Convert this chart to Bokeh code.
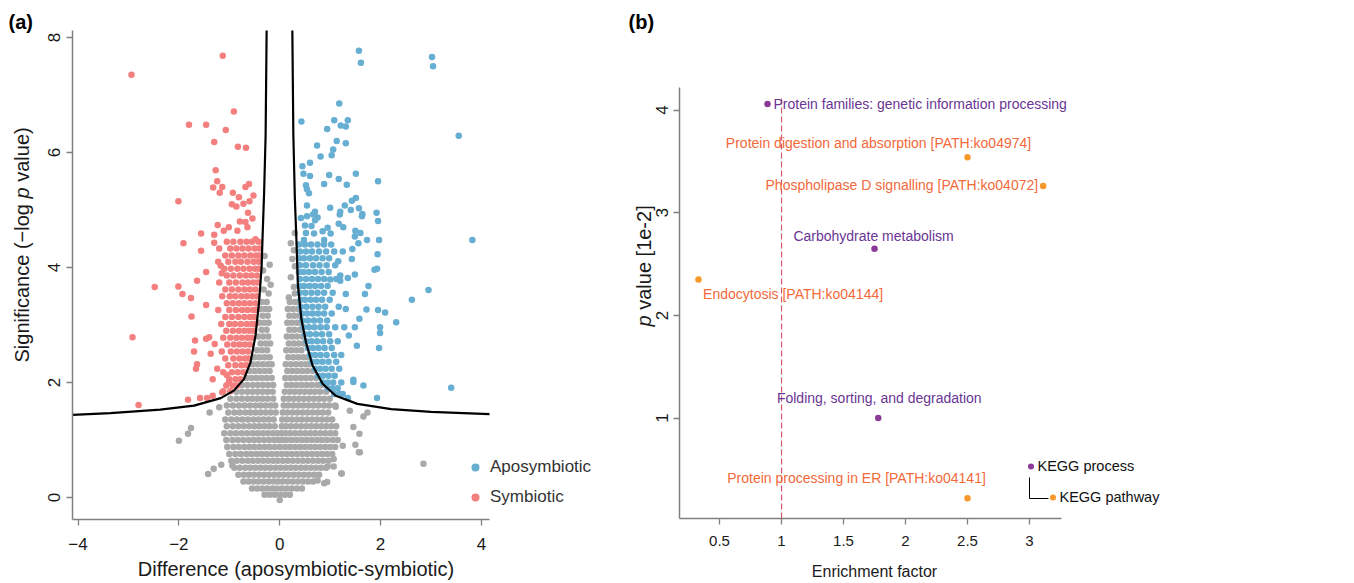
import math
from bokeh.plotting import figure
from bokeh.layouts import row
from bokeh.models import Range1d, FixedTicker, Label, Legend, LegendItem, Arrow
from bokeh.embed import file_html
from bokeh.resources import INLINE

# ---------------- Panel (a): volcano plot data ----------------
symbiotic_sparse = [
    (-1.13, 7.68), (-2.94, 7.35), (-0.91, 6.71), (-1.80, 6.48), (-1.46, 6.48), (-1.07, 6.39),
    (-1.30, 6.18), (-0.83, 6.10), (-0.67, 6.08), (-1.27, 5.69), (-1.24, 5.50), (-1.32, 5.39),
    (-1.14, 5.40), (-1.19, 5.30), (-0.93, 5.30), (-0.61, 5.45), (-0.68, 5.40), (-0.81, 5.22),
    (-0.52, 5.25), (-0.60, 5.15), (-0.72, 5.11), (-2.01, 5.15), (-0.95, 5.10), (-0.86, 5.06),
    (-0.63, 4.95), (-0.54, 4.85), (-0.68, 4.79), (-0.79, 4.80), (-1.23, 4.74), (-1.01, 4.70),
    (-1.11, 4.64), (-0.84, 4.64), (-1.56, 4.59), (-1.30, 4.57), (-0.64, 4.70), (-0.48, 4.49),
    (-1.91, 4.42), (-1.56, 4.29), (-1.30, 4.43), (-1.46, 3.92), (-2.48, 3.66), (-2.01, 3.67),
    (-1.93, 3.54), (-1.76, 3.47), (-1.64, 3.77), (-1.17, 4.03), (-1.15, 3.90), (-1.46, 3.35),
    (-1.75, 3.15), (-2.92, 2.79), (-1.68, 2.73), (-1.70, 2.54), (-1.64, 2.32), (-1.66, 2.24),
    (-1.40, 2.79), (-1.46, 2.76), (-1.37, 2.50), (-1.29, 2.67), (-1.33, 2.06), (-1.24, 2.24),
    (-1.82, 1.70), (-2.80, 1.61), (-1.58, 1.73), (-1.44, 1.73), (-1.33, 1.77), (-1.14, 1.83),
    (-1.05, 2.13), (-1.01, 2.00),
]
symbiotic_dense = {
    4.45: [-1.05, -0.92, -0.78, -0.66, -0.55, -0.42],
    4.33: [-1.20, -0.98, -0.86, -0.74, -0.62, -0.50, -0.40],
    4.21: [-1.08, -0.95, -0.82, -0.70, -0.58, -0.47, -0.40],
    4.10: [-1.22, -1.02, -0.88, -0.77, -0.64, -0.52, -0.42],
    3.98: [-1.10, -0.97, -0.84, -0.72, -0.60, -0.49, -0.41],
    3.86: [-1.05, -0.92, -0.79, -0.67, -0.56, -0.45],
    3.74: [-1.20, -1.00, -0.87, -0.74, -0.63, -0.52, -0.43],
    3.62: [-1.08, -0.95, -0.82, -0.70, -0.59, -0.48],
    3.50: [-1.14, -0.99, -0.88, -0.76, -0.65, -0.54, -0.45],
    3.38: [-1.05, -0.93, -0.81, -0.70, -0.59, -0.48],
    3.26: [-1.22, -1.00, -0.87, -0.75, -0.64, -0.53, -0.46],
    3.14: [-1.08, -0.95, -0.82, -0.70, -0.59, -0.50],
    3.02: [-1.16, -1.00, -0.89, -0.77, -0.65, -0.55, -0.48],
    2.90: [-1.06, -0.93, -0.81, -0.70, -0.60, -0.51],
    2.78: [-1.12, -0.98, -0.86, -0.75, -0.64, -0.55],
    2.66: [-1.04, -0.91, -0.80, -0.69, -0.59],
    2.54: [-1.15, -0.97, -0.85, -0.74, -0.63],
    2.42: [-1.08, -0.92, -0.80, -0.69, -0.62],
    2.30: [-1.02, -0.88, -0.76, -0.66],
    2.18: [-1.12, -0.95, -0.83, -0.72],
    2.06: [-1.00, -0.88, -0.78],
    1.95: [-1.06, -0.93, -0.84],
    1.85: [-1.12, -0.98],
}
aposymbiotic_sparse = [
    (1.57, 7.77), (1.61, 7.56), (3.02, 7.66), (3.04, 7.50), (3.55, 6.29), (1.18, 6.85),
    (0.43, 6.54), (1.08, 6.56), (1.35, 6.56), (1.21, 6.47), (1.31, 6.45), (0.94, 6.41),
    (1.13, 6.20), (1.31, 6.16), (0.74, 6.12), (1.06, 6.05), (1.03, 5.95), (0.81, 5.93),
    (0.60, 5.82), (0.45, 5.76), (0.47, 5.63), (0.60, 5.59), (0.98, 5.61), (1.51, 5.63),
    (1.17, 5.54), (0.88, 5.45), (1.33, 5.44), (1.95, 5.50), (0.52, 5.43), (0.54, 5.36),
    (0.58, 5.29), (1.51, 5.21), (1.43, 5.16), (0.54, 5.08), (1.00, 5.04), (1.29, 5.08),
    (1.57, 5.03), (1.41, 5.00), (0.70, 4.97), (1.20, 4.97), (1.64, 4.93), (1.63, 4.89),
    (1.92, 4.95), (1.95, 4.81), (1.19, 4.92), (0.42, 4.86), (0.54, 4.89), (0.66, 4.92),
    (0.75, 4.87), (0.70, 4.82), (0.50, 4.73), (0.63, 4.72), (0.95, 4.69), (1.17, 4.76),
    (1.26, 4.70), (1.50, 4.64), (1.60, 4.60), (0.85, 4.63), (1.01, 4.59), (0.52, 4.60),
    (0.68, 4.59), (1.49, 4.54), (0.48, 4.48), (0.88, 4.48), (1.73, 4.48), (1.97, 4.48),
    (3.82, 4.48), (1.56, 4.42), (1.44, 4.32), (1.94, 4.23), (1.43, 4.15), (1.16, 4.11),
    (1.88, 3.96), (1.93, 3.98), (1.49, 3.88), (1.35, 3.82), (1.20, 3.86), (1.20, 3.77),
    (1.00, 3.79), (1.76, 3.68), (1.69, 3.54), (1.31, 3.54), (2.95, 3.61), (2.62, 3.44),
    (1.72, 3.27), (1.95, 3.26), (2.09, 3.22), (1.31, 3.28), (1.17, 3.32), (1.58, 3.11),
    (2.31, 3.05), (1.99, 2.96), (1.99, 2.86), (1.49, 2.96), (1.28, 2.96), (1.37, 2.82),
    (1.53, 2.64), (1.97, 2.60), (1.46, 2.05), (1.46, 2.01), (1.66, 1.95), (1.93, 1.73),
    (3.40, 1.91), (1.35, 1.73), (1.18, 1.80),
]
aposymbiotic_dense = {
    4.40: [0.38, 0.50, 0.62, 0.75, 0.88, 1.02],
    4.28: [0.40, 0.52, 0.64, 0.78, 0.92, 1.08, 1.25],
    4.16: [0.38, 0.48, 0.60, 0.72, 0.85, 0.98],
    4.04: [0.40, 0.52, 0.66, 0.79, 0.93, 1.10],
    3.92: [0.38, 0.47, 0.58, 0.70, 0.83, 0.97],
    3.80: [0.40, 0.52, 0.64, 0.76, 0.88, 1.12],
    3.68: [0.39, 0.48, 0.59, 0.70, 0.82, 0.95],
    3.56: [0.40, 0.51, 0.63, 0.75, 0.88, 1.05],
    3.44: [0.41, 0.50, 0.61, 0.72, 0.84, 0.99],
    3.32: [0.42, 0.53, 0.65, 0.77, 0.90],
    3.20: [0.44, 0.54, 0.65, 0.76, 0.88, 1.03],
    3.08: [0.45, 0.56, 0.68, 0.80, 0.94],
    2.96: [0.47, 0.58, 0.69, 0.81, 0.93, 1.10],
    2.84: [0.50, 0.60, 0.72, 0.84, 0.98],
    2.72: [0.53, 0.63, 0.74, 0.86, 1.00, 1.15],
    2.60: [0.56, 0.66, 0.77, 0.89, 1.03],
    2.48: [0.60, 0.70, 0.81, 0.93, 1.08, 1.22],
    2.36: [0.64, 0.74, 0.85, 0.97, 1.12],
    2.24: [0.70, 0.80, 0.91, 1.03, 1.18],
    2.12: [0.76, 0.86, 0.97, 1.09],
    2.00: [0.85, 0.95, 1.06, 1.22],
    1.90: [0.95, 1.05, 1.15],
    1.80: [1.08, 1.25],
}
nonsig_sparse = [
    (0.30, 4.60), (0.22, 4.42), (0.28, 4.30), (0.25, 4.15), (0.30, 4.02), (0.22, 3.83),
    (0.28, 3.66), (0.18, 3.48), (0.30, 3.55), (-0.30, 4.20), (-0.20, 4.05), (-0.33, 3.95),
    (-0.25, 3.80), (-0.18, 3.70), (-0.32, 3.62), (-0.22, 3.55),
    (-2.00, 0.99), (-1.82, 1.11), (-1.76, 1.21), (-1.42, 0.41), (-1.31, 0.50), (-1.16, 0.57),
    (-0.94, 0.56), (-1.39, 1.48), (-1.20, 1.57), (1.46, 1.23), (1.58, 1.11), (1.50, 0.92),
    (1.59, 0.79), (1.23, 0.42), (1.25, 0.90), (1.74, 1.48), (1.66, 1.41), (1.39, 1.51),
    (1.11, 1.58), (1.07, 0.67), (0.95, 0.54), (0.75, 0.30), (0.88, 0.25), (2.85, 0.59),
    (0.94, 0.27), (1.22, 0.42), (1.07, 0.54), (1.57, 0.79), (0.00, -0.04),
]
nonsig_dense = {
    3.40: [-0.36, -0.26, 0.20, 0.30, 0.37],
    3.28: [-0.38, -0.29, -0.21, 0.16, 0.26, 0.36],
    3.16: [-0.34, -0.24, 0.19, 0.29, 0.39],
    3.04: [-0.40, -0.31, -0.22, 0.15, 0.24, 0.34, 0.42],
    2.92: [-0.36, -0.26, 0.19, 0.29, 0.40],
    2.80: [-0.43, -0.33, -0.23, 0.14, 0.24, 0.34, 0.45],
    2.68: [-0.38, -0.28, -0.19, 0.18, 0.28, 0.38, 0.48],
    2.56: [-0.45, -0.35, -0.25, 0.13, 0.23, 0.33, 0.43],
    2.44: [-0.50, -0.40, -0.30, -0.20, 0.17, 0.27, 0.37, 0.47, 0.56],
    2.32: [-0.54, -0.44, -0.34, -0.24, -0.16, 0.12, 0.22, 0.32, 0.42, 0.52, 0.60],
    2.20: [-0.60, -0.50, -0.40, -0.30, -0.20, 0.15, 0.25, 0.35, 0.45, 0.55, 0.66],
    2.08: [-0.66, -0.56, -0.46, -0.36, -0.26, -0.16, 0.11, 0.21, 0.31, 0.41, 0.51, 0.61, 0.72],
    1.96: [-0.75, -0.64, -0.53, -0.43, -0.33, -0.23, -0.13, 0.14, 0.24, 0.34, 0.44, 0.54, 0.64, 0.75, 0.84],
    1.84: [-0.86, -0.75, -0.64, -0.54, -0.44, -0.34, -0.24, -0.14, 0.10, 0.20, 0.30, 0.40, 0.50, 0.60, 0.70, 0.80, 0.92],
    1.72: [-0.98, -0.86, -0.75, -0.64, -0.54, -0.44, -0.34, -0.24, -0.13, 0.08, 0.18, 0.28, 0.38, 0.48, 0.58, 0.68, 0.78, 0.88, 0.99],
    1.60: [-1.05, -0.93, -0.81, -0.70, -0.59, -0.48, -0.38, -0.28, -0.18, -0.09, 0.08, 0.17, 0.27, 0.37, 0.47, 0.57, 0.67, 0.77, 0.88, 0.98, 1.10],
    1.48: [-1.02, -0.90, -0.79, -0.68, -0.58, -0.48, -0.38, -0.28, -0.18, -0.08, 0.06, 0.15, 0.25, 0.35, 0.45, 0.55, 0.65, 0.75, 0.85, 0.96],
    1.36: [-1.08, -0.96, -0.85, -0.74, -0.63, -0.52, -0.42, -0.32, -0.22, -0.12, 0.05, 0.14, 0.24, 0.34, 0.44, 0.54, 0.64, 0.74, 0.84, 0.94, 1.04],
    1.24: [-1.05, -0.93, -0.82, -0.71, -0.60, -0.50, -0.40, -0.30, -0.20, -0.10, 0.04, 0.12, 0.22, 0.32, 0.42, 0.52, 0.62, 0.72, 0.82, 0.92, 1.02, 1.12],
    1.12: [-1.10, -0.98, -0.87, -0.76, -0.65, -0.54, -0.44, -0.34, -0.24, -0.14, -0.05, 0.03, 0.11, 0.20, 0.30, 0.40, 0.50, 0.60, 0.70, 0.80, 0.90, 1.00, 1.10],
    1.00: [-1.06, -0.94, -0.83, -0.72, -0.61, -0.51, -0.41, -0.31, -0.21, -0.11, -0.03, 0.05, 0.14, 0.24, 0.34, 0.44, 0.54, 0.64, 0.74, 0.84, 0.94, 1.05, 1.15],
    0.88: [-1.04, -0.92, -0.81, -0.70, -0.60, -0.50, -0.40, -0.30, -0.20, -0.10, 0.00, 0.10, 0.20, 0.30, 0.40, 0.50, 0.60, 0.70, 0.80, 0.90, 1.00, 1.10],
    0.76: [-1.00, -0.88, -0.77, -0.66, -0.56, -0.46, -0.36, -0.26, -0.16, -0.06, 0.04, 0.14, 0.24, 0.34, 0.44, 0.54, 0.64, 0.74, 0.84, 0.94, 1.04],
    0.64: [-0.96, -0.85, -0.74, -0.63, -0.53, -0.43, -0.33, -0.23, -0.13, -0.04, 0.06, 0.16, 0.26, 0.36, 0.46, 0.56, 0.66, 0.76, 0.86, 0.97],
    0.52: [-0.90, -0.79, -0.68, -0.58, -0.48, -0.38, -0.28, -0.18, -0.08, 0.02, 0.12, 0.22, 0.32, 0.42, 0.52, 0.62, 0.72, 0.82, 0.92],
    0.40: [-0.82, -0.71, -0.61, -0.51, -0.41, -0.31, -0.21, -0.11, -0.02, 0.08, 0.18, 0.28, 0.38, 0.48, 0.58, 0.68, 0.78],
    0.28: [-0.72, -0.62, -0.52, -0.42, -0.32, -0.22, -0.12, -0.03, 0.06, 0.16, 0.26, 0.36, 0.46, 0.56, 0.66],
    0.16: [-0.55, -0.45, -0.35, -0.25, -0.15, -0.06, 0.04, 0.14, 0.24, 0.34, 0.44],
    0.05: [-0.30, -0.20, -0.10, 0.00, 0.10, 0.20],
}
# significance threshold curve
curve_left_x = [-0.26, -0.28, -0.31, -0.34, -0.36, -0.41, -0.48, -0.58, -0.71, -0.91, -1.17, -1.70, -2.37, -3.36, -4.11]
curve_left_y = [8.12, 6.30, 5.30, 4.55, 4.00, 3.40, 2.82, 2.35, 2.06, 1.86, 1.73, 1.60, 1.53, 1.47, 1.44]
curve_right_x = [0.25, 0.27, 0.30, 0.33, 0.36, 0.43, 0.52, 0.65, 0.85, 1.11, 1.54, 2.21, 3.00, 4.16]
curve_right_y = [8.12, 6.30, 5.20, 4.50, 3.70, 3.10, 2.70, 2.30, 1.98, 1.77, 1.63, 1.54, 1.49, 1.45]

volcano_x_ticks = [-4, -2, 0, 2, 4]
volcano_y_ticks = [0, 2, 4, 6, 8]

# ---------------- Panel (b): KEGG enrichment data ----------------
process_names = ["Protein families: genetic information processing", "Carbohydrate metabolism",
                 "Folding, sorting, and degradation"]
process_enrichment = [0.887, 1.75, 1.78]
process_pvalue = [4.06, 2.65, 1.00]

pathway_names = ["Protein digestion and absorption [PATH:ko04974]", "Phospholipase D signalling [PATH:ko04072]",
                 "Endocytosis [PATH:ko04144]", "Protein processing in ER [PATH:ko04141]"]
pathway_enrichment = [2.50, 3.11, 0.33, 2.50]
pathway_pvalue = [3.54, 3.26, 2.35, 0.22]

enrich_x_ticks = [0.5, 1, 1.5, 2, 2.5, 3]
enrich_y_ticks = [1, 2, 3, 4]
enrichment_cutoff = 1

# ---------------- styling / layout ----------------
SANS = "Liberation Sans"
BLUE = "#67AED3"
RED = "#F47F7F"
GRAY = "#A9A9A9"
PURPLE_DOT = "#8B3A97"
PURPLE_TXT = "#6A3594"
ORANGE_DOT = "#F7982A"
ORANGE_TXT = "#F2693A"
AXIS = "#808080"
TXT = "#1a1a1a"

PAGE_TOP, PAGE_BOTTOM = 0, 581
H = PAGE_BOTTOM - PAGE_TOP


def canvas_range(v0, v1, p0, p1, c0, c1):
    """Extend axis range (v0 at pixel p0, v1 at pixel p1) to the canvas pixels c0..c1."""
    s = (v1 - v0) / (p1 - p0)
    return Range1d(v0 + (c0 - p0) * s, v0 + (c1 - p0) * s)


def flatten(sparse, dense):
    xs = [p[0] for p in sparse]
    ys = [p[1] for p in sparse]
    for yv, row_x in dense.items():
        xs += row_x
        ys += [yv] * len(row_x)
    return xs, ys


def style_axes(p, xb, yb, xfont_size, yfont_size):
    p.xaxis.fixed_location = yb[0]
    p.yaxis.fixed_location = xb[0]
    p.xaxis.bounds = xb
    p.yaxis.bounds = yb
    for ax in (p.xaxis[0], p.yaxis[0]):
        ax.axis_line_color = AXIS
        ax.axis_line_width = 1.5
        ax.major_tick_line_color = AXIS
        ax.major_tick_line_width = 1.3
        ax.major_tick_out = 6
        ax.major_tick_in = 0
        ax.minor_tick_line_color = None
        ax.major_label_text_color = TXT
        ax.major_label_text_font = SANS
    p.xaxis.major_label_text_font_size = xfont_size
    p.yaxis.major_label_text_font_size = yfont_size
    p.yaxis.major_label_orientation = "vertical"
    p.xgrid.visible = False
    p.ygrid.visible = False
    p.outline_line_color = None


def label(p, left, px, py, text, **kw):
    """Text centred (vertically, in its own frame) at page pixel (px, py) of a figure starting at page x = left."""
    p.add_layout(Label(x=px - left, y=PAGE_BOTTOM - py, x_units="screen", y_units="screen",
                       text=text, text_baseline="middle", **kw))


# ================= Panel (a) =================
A_LEFT, A_W = 0, 608
xa = (-4.11, 4.16)
ya = (-0.38, 8.12)
p1 = figure(width=A_W, height=H, output_backend="svg", toolbar_location=None,
            x_range=canvas_range(xa[0], xa[1], 72, 489, A_LEFT, A_LEFT + A_W),
            y_range=canvas_range(ya[0], ya[1], 519, 30, PAGE_BOTTOM, PAGE_TOP),
            min_border=0)
style_axes(p1, xa, ya, "17px", "17px")
p1.xaxis.ticker = FixedTicker(ticks=volcano_x_ticks)
p1.xaxis.major_label_overrides = {t: (f"\u2212{abs(t)}" if t < 0 else str(t)) for t in volcano_x_ticks}
p1.yaxis.ticker = FixedTicker(ticks=volcano_y_ticks)
p1.xaxis.major_label_standoff = 12
p1.yaxis.major_label_standoff = 6

gx, gy = flatten(nonsig_sparse, nonsig_dense)
rx, ry = flatten(symbiotic_sparse, symbiotic_dense)
bx, by = flatten(aposymbiotic_sparse, aposymbiotic_dense)
p1.scatter(gx, gy, size=6.5, color=GRAY, line_color=None)
red_r = p1.scatter(rx, ry, size=6.5, color=RED, line_color=None)
blue_r = p1.scatter(bx, by, size=6.5, color=BLUE, line_color=None)
p1.line(curve_left_x, curve_left_y, color="black", line_width=2.2)
p1.line(curve_right_x, curve_right_y, color="black", line_width=2.2)

leg1 = Legend(items=[LegendItem(label="Aposymbiotic", renderers=[blue_r]),
                     LegendItem(label="Symbiotic", renderers=[red_r])],
              location=(465 - A_LEFT, PAGE_BOTTOM - 507), glyph_width=20, glyph_height=20,
              label_height=20, spacing=10, padding=0, margin=0, label_standoff=5,
              label_text_font=SANS, label_text_font_size="17px", label_text_color="#333333",
              border_line_color=None, background_fill_alpha=0)
p1.add_layout(leg1)

label(p1, A_LEFT, 295.5, 568, "Difference (aposymbiotic-symbiotic)", text_font=SANS,
      text_font_size="20px", text_align="center", text_color=TXT)
for txt, st, py in [("Significance (\u2212log", "normal", 362), ("p", "italic", 198.0),
                    ("value)", "normal", 181.3)]:
    label(p1, A_LEFT, 21.5, py, txt, angle=math.pi / 2, text_font=SANS, text_font_style=st,
          text_font_size="20px", text_align="left", text_color=TXT)
label(p1, A_LEFT, 8, 21, "(a)", text_font=SANS, text_font_style="bold", text_font_size="20px",
      text_align="left", text_color="black")

# ================= Panel (b) =================
B_LEFT, B_W = 608, 744
xb = (0.177, 3.258)
yb = (0.022, 4.22)
p2 = figure(width=B_W, height=H, output_backend="svg", toolbar_location=None,
            x_range=canvas_range(xb[0], xb[1], 679, 1061, B_LEFT, B_LEFT + B_W),
            y_range=canvas_range(yb[0], yb[1], 518, 87, PAGE_BOTTOM, PAGE_TOP),
            min_border=0)
style_axes(p2, xb, yb, "15px", "17px")
p2.xaxis.ticker = FixedTicker(ticks=enrich_x_ticks)
p2.xaxis.major_label_overrides = {t: (str(int(t)) if float(t).is_integer() else str(t)) for t in enrich_x_ticks}
p2.yaxis.ticker = FixedTicker(ticks=enrich_y_ticks)
p2.xaxis.major_label_standoff = 11
p2.yaxis.major_label_standoff = 5

# enrichment-factor cutoff line, spanning the plotting region
p2.segment(x0=[enrichment_cutoff], y0=[yb[0]], x1=[enrichment_cutoff], y1=[4.14],
           line_color="#CF5A6C", line_dash="6 3", line_width=1.2)

proc_r = p2.scatter(process_enrichment, process_pvalue, size=6.5, color=PURPLE_DOT, line_color=None)
path_r = p2.scatter(pathway_enrichment, pathway_pvalue, size=6.5, color=ORANGE_DOT, line_color=None)

# label placement (screen offsets relative to each point, y up)
process_label_style = [(6, 0, "left"), (-1, 13, "center"), (1, 20, "center")]
pathway_label_style = [(-89, 14, "center"), (-5, 1, "right"), (4.6, -15, "left"), (-111, 20, "center")]
for name, ex, pv, (dx, dy, al) in zip(process_names, process_enrichment, process_pvalue, process_label_style):
    p2.add_layout(Label(x=ex, y=pv, text=name, x_offset=dx, y_offset=dy, text_align=al,
                        text_baseline="middle", text_font=SANS, text_font_size="14px",
                        text_color=PURPLE_TXT))
for name, ex, pv, (dx, dy, al) in zip(pathway_names, pathway_enrichment, pathway_pvalue, pathway_label_style):
    p2.add_layout(Label(x=ex, y=pv, text=name, x_offset=dx, y_offset=dy, text_align=al,
                        text_baseline="middle", text_font=SANS, text_font_size="14px",
                        text_color=ORANGE_TXT))

leg_style = dict(glyph_width=15, glyph_height=20, label_height=20, padding=0, margin=0,
                 label_standoff=0, label_text_font=SANS, label_text_font_size="14.5px",
                 label_text_color="#111111", border_line_color=None, background_fill_alpha=0)
p2.add_layout(Legend(items=[LegendItem(label="KEGG process", renderers=[proc_r])],
                     location=(1022.5 - B_LEFT, PAGE_BOTTOM - 476), **leg_style))
p2.add_layout(Legend(items=[LegendItem(label="KEGG pathway", renderers=[path_r])],
                     location=(1044.5 - B_LEFT, PAGE_BOTTOM - 507), **leg_style))
p2.add_layout(Arrow(end=None, x_start=1029 - B_LEFT, y_start=PAGE_BOTTOM - 477,
                    x_end=1029 - B_LEFT, y_end=PAGE_BOTTOM - 498,
                    start_units="screen", end_units="screen", line_color="black", line_width=1))
p2.add_layout(Arrow(end=None, x_start=1029 - B_LEFT, y_start=PAGE_BOTTOM - 498,
                    x_end=1048 - B_LEFT, y_end=PAGE_BOTTOM - 498,
                    start_units="screen", end_units="screen", line_color="black", line_width=1))

label(p2, B_LEFT, 874, 571, "Enrichment factor", text_font=SANS, text_font_size="16px",
      text_align="center", text_color=TXT)
for txt, st, py in [("p", "italic", 326), ("value [1e-2]", "normal", 309.3)]:
    label(p2, B_LEFT, 643, py, txt, angle=math.pi / 2, text_font=SANS, text_font_style=st,
          text_font_size="20px", text_align="left", text_color=TXT)
label(p2, B_LEFT, 628, 21, "(b)", text_font=SANS, text_font_style="bold", text_font_size="20px",
      text_align="left", text_color="black")

layout = row(p1, p2, spacing=0)
open("out.html", "w").write(file_html(layout, INLINE))
